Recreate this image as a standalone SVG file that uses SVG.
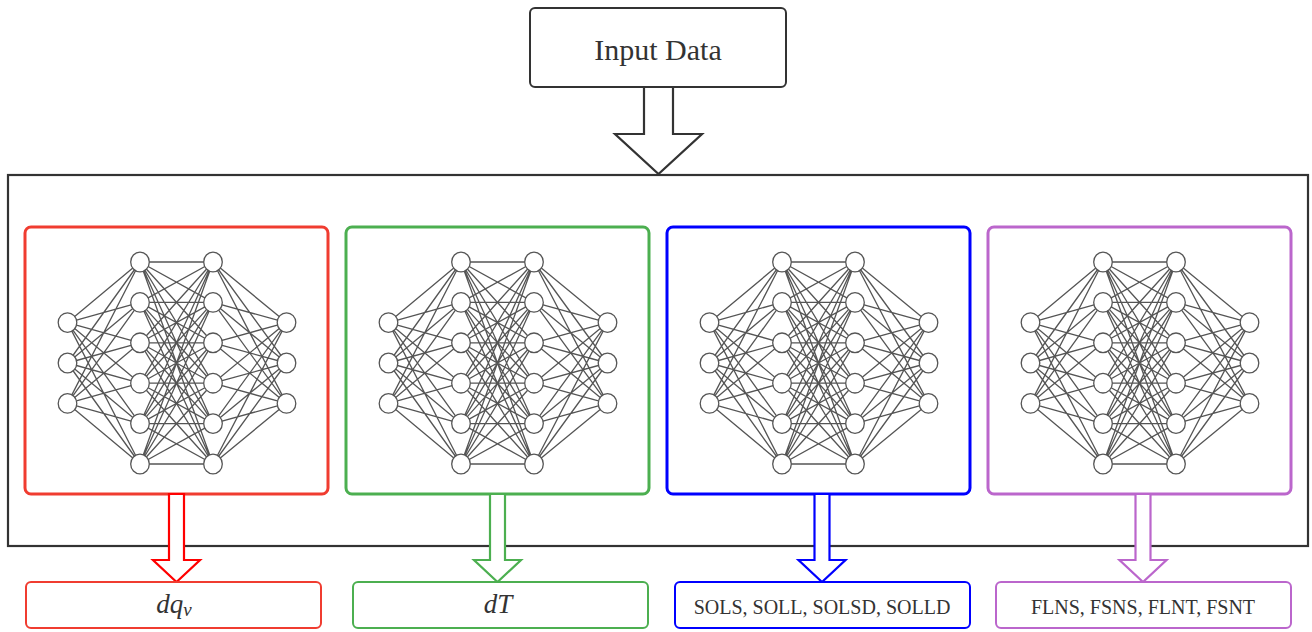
<svg xmlns="http://www.w3.org/2000/svg" xmlns:xlink="http://www.w3.org/1999/xlink" width="1312" height="632" viewBox="0 0 1312 632">
<style>
.lbl{font-family:"Liberation Serif","Times New Roman",serif;fill:#333;text-anchor:middle}
.math{font-family:"Liberation Serif","Times New Roman",serif;font-style:italic;fill:#333}
.edge{stroke:#555;stroke-width:1.3;fill:none}
.neuron{fill:#fff;stroke:#555;stroke-width:1.3}
.mod{fill:#fff;stroke-width:3}
.out{fill:#fff;stroke-width:2}
.arr{fill:#fff;stroke-width:2.2;stroke-linejoin:miter}
</style>
<defs>
<g id="net">
<path class="edge" d="M67.5 322.6L140 262M67.5 322.6L140 302.4M67.5 322.6L140 342.8M67.5 322.6L140 383.2M67.5 322.6L140 423.6M67.5 322.6L140 464M67.5 363L140 262M67.5 363L140 302.4M67.5 363L140 342.8M67.5 363L140 383.2M67.5 363L140 423.6M67.5 363L140 464M67.5 403.4L140 262M67.5 403.4L140 302.4M67.5 403.4L140 342.8M67.5 403.4L140 383.2M67.5 403.4L140 423.6M67.5 403.4L140 464
M140 262L213 262M140 262L213 302.4M140 262L213 342.8M140 262L213 383.2M140 262L213 423.6M140 262L213 464
M140 302.4L213 262M140 302.4L213 302.4M140 302.4L213 342.8M140 302.4L213 383.2M140 302.4L213 423.6M140 302.4L213 464
M140 342.8L213 262M140 342.8L213 302.4M140 342.8L213 342.8M140 342.8L213 383.2M140 342.8L213 423.6M140 342.8L213 464
M140 383.2L213 262M140 383.2L213 302.4M140 383.2L213 342.8M140 383.2L213 383.2M140 383.2L213 423.6M140 383.2L213 464
M140 423.6L213 262M140 423.6L213 302.4M140 423.6L213 342.8M140 423.6L213 383.2M140 423.6L213 423.6M140 423.6L213 464
M140 464L213 262M140 464L213 302.4M140 464L213 342.8M140 464L213 383.2M140 464L213 423.6M140 464L213 464
M213 262L286.5 322.6M213 302.4L286.5 322.6M213 342.8L286.5 322.6M213 383.2L286.5 322.6M213 423.6L286.5 322.6M213 464L286.5 322.6
M213 262L286.5 363M213 302.4L286.5 363M213 342.8L286.5 363M213 383.2L286.5 363M213 423.6L286.5 363M213 464L286.5 363
M213 262L286.5 403.4M213 302.4L286.5 403.4M213 342.8L286.5 403.4M213 383.2L286.5 403.4M213 423.6L286.5 403.4M213 464L286.5 403.4"/>
<ellipse class="neuron" cx="67.5" cy="322.6" rx="9.3" ry="9.8"/><ellipse class="neuron" cx="67.5" cy="363" rx="9.3" ry="9.8"/><ellipse class="neuron" cx="67.5" cy="403.4" rx="9.3" ry="9.8"/>
<ellipse class="neuron" cx="140" cy="262" rx="9.3" ry="9.8"/><ellipse class="neuron" cx="140" cy="302.4" rx="9.3" ry="9.8"/><ellipse class="neuron" cx="140" cy="342.8" rx="9.3" ry="9.8"/><ellipse class="neuron" cx="140" cy="383.2" rx="9.3" ry="9.8"/><ellipse class="neuron" cx="140" cy="423.6" rx="9.3" ry="9.8"/><ellipse class="neuron" cx="140" cy="464" rx="9.3" ry="9.8"/>
<ellipse class="neuron" cx="213" cy="262" rx="9.3" ry="9.8"/><ellipse class="neuron" cx="213" cy="302.4" rx="9.3" ry="9.8"/><ellipse class="neuron" cx="213" cy="342.8" rx="9.3" ry="9.8"/><ellipse class="neuron" cx="213" cy="383.2" rx="9.3" ry="9.8"/><ellipse class="neuron" cx="213" cy="423.6" rx="9.3" ry="9.8"/><ellipse class="neuron" cx="213" cy="464" rx="9.3" ry="9.8"/>
<ellipse class="neuron" cx="286.5" cy="322.6" rx="9.3" ry="9.8"/><ellipse class="neuron" cx="286.5" cy="363" rx="9.3" ry="9.8"/><ellipse class="neuron" cx="286.5" cy="403.4" rx="9.3" ry="9.8"/>
</g>
</defs>
<rect width="1312" height="632" fill="#fff"/>

<g id="container">
<rect x="8" y="175" width="1300" height="371" fill="#fff" stroke="#333" stroke-width="2.2"/>
</g>

<g id="input-data">
<rect x="530" y="8" width="256" height="79" rx="5" fill="#fff" stroke="#333" stroke-width="2"/>
<text class="lbl" x="658" y="60" font-size="30">Input Data</text>
</g>

<g id="model-dqv">
<rect class="mod" x="25" y="227" width="303" height="267" rx="6" stroke="#f03c30"/>
<use xlink:href="#net"/>
</g>
<g id="model-dT">
<rect class="mod" x="346" y="227" width="303" height="267" rx="6" stroke="#4caf50"/>
<use xlink:href="#net" transform="translate(321,0)"/>
</g>
<g id="model-sol">
<rect class="mod" x="667" y="227" width="303" height="267" rx="6" stroke="#0000ff"/>
<use xlink:href="#net" transform="translate(642,0)"/>
</g>
<g id="model-flux">
<rect class="mod" x="988" y="227" width="303" height="267" rx="6" stroke="#bb66cc"/>
<use xlink:href="#net" transform="translate(963,0)"/>
</g>

<g id="connectors">
<polygon class="arr" stroke="#333" points="644,87 673,87 673,134 702,134 658.5,174 615,134 644,134"/>
<polygon class="arr" stroke="#ff0000" points="169,494 184,494 184,560 200,560 176.5,582 153,560 169,560"/>
<polygon class="arr" stroke="#4caf50" points="490,494 505,494 505,560 521,560 497.5,582 474,560 490,560"/>
<polygon class="arr" stroke="#0000ff" points="814.5,494 829.5,494 829.5,560 845.5,560 822,582 798.5,560 814.5,560"/>
<polygon class="arr" stroke="#bb66cc" points="1135.5,494 1150.5,494 1150.5,560 1166.5,560 1143,582 1119.5,560 1135.5,560"/>
</g>

<g id="out-dqv">
<rect class="out" x="26" y="582" width="295" height="46" rx="5" stroke="#f03c30"/>
<text class="math" x="174" y="613" font-size="27" text-anchor="middle">dq<tspan font-size="19" dy="3">v</tspan></text>
</g>
<g id="out-dT">
<rect class="out" x="353" y="582" width="295" height="46" rx="5" stroke="#4caf50"/>
<text class="math" x="498" y="613" font-size="27" text-anchor="middle">dT</text>
</g>
<g id="out-sol">
<rect class="out" x="675" y="582" width="295" height="46" rx="5" stroke="#0000ff" stroke-width="2.5"/>
<text class="lbl" x="822" y="614" font-size="20">SOLS, SOLL, SOLSD, SOLLD</text>
</g>
<g id="out-flux">
<rect class="out" x="996" y="582" width="295" height="46" rx="5" stroke="#bb66cc"/>
<text class="lbl" x="1143" y="614" font-size="20">FLNS, FSNS, FLNT, FSNT</text>
</g>
</svg>
